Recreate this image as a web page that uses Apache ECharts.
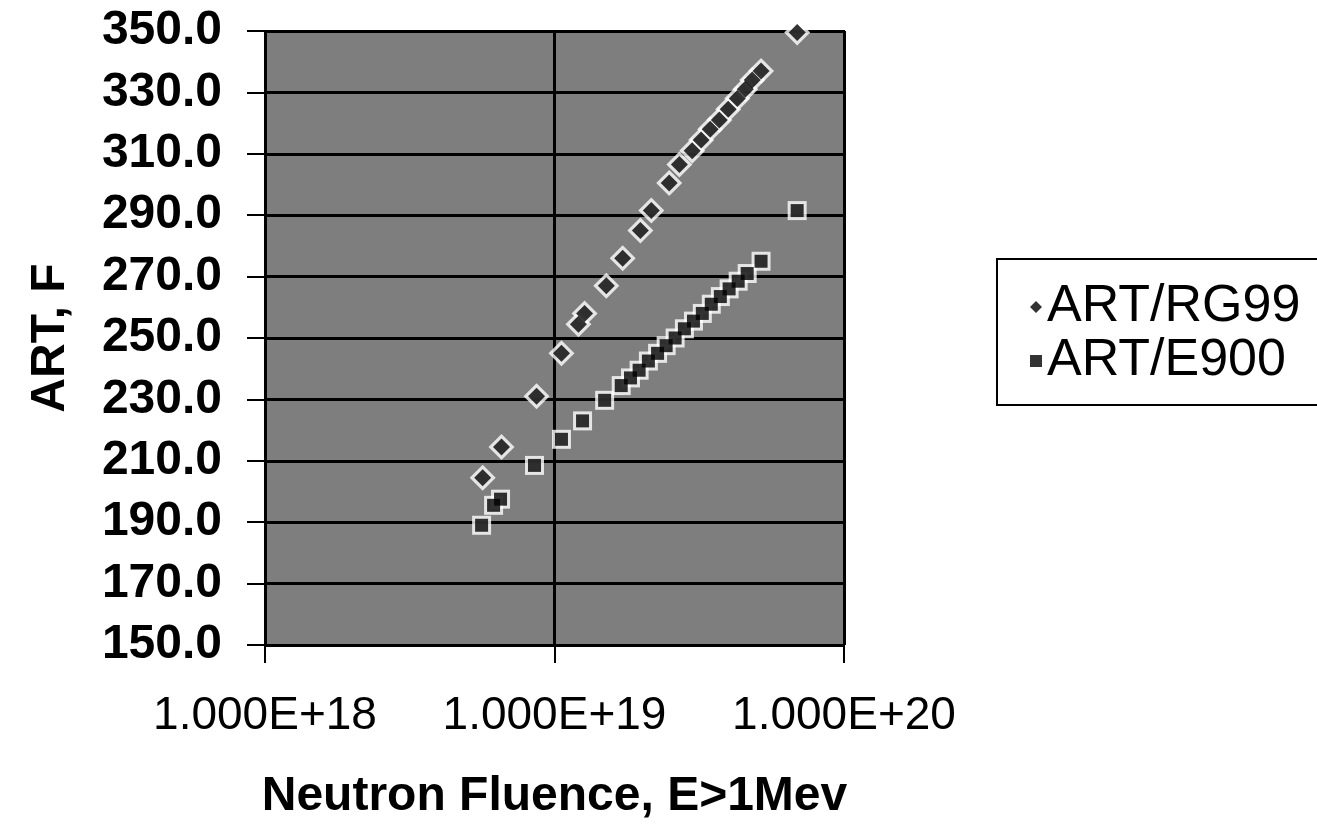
<!DOCTYPE html>
<html>
<head>
<meta charset="utf-8">
<title>ART vs Neutron Fluence</title>
<script src="https://cdn.jsdelivr.net/npm/echarts/dist/echarts.min.js"></script>
<style>
  html, body { margin: 0; padding: 0; background: #fff; }
  #main { width: 1317px; height: 834px; }
</style>
</head>
<body>
<div id="main"></div>
<script>
// data (fluence n/cm2, ART in F)
var rg99Fluence = [5.65e18, 6.56e18, 8.67e18, 1.057e19, 1.21e19, 1.27e19, 1.51e19, 1.72e19,
  1.98e19, 2.16e19, 2.49e19, 2.70e19, 2.99e19, 3.21e19, 3.45e19, 3.71e19, 3.98e19,
  4.28e19, 4.56e19, 4.82e19, 5.17e19, 6.89e19];
var rg99Art = [204.5, 214.5, 231.0, 245.0, 254.5, 258.0, 267.0, 276.0,
  285.0, 291.5, 300.5, 306.5, 311.0, 314.5, 318.0, 321.0, 324.5,
  328.0, 331.0, 334.0, 337.0, 349.5];

var e900Fluence = [5.60e18, 6.16e18, 6.51e18, 8.53e18, 1.057e19, 1.25e19, 1.49e19, 1.70e19,
  1.83e19, 1.96e19, 2.11e19, 2.27e19, 2.43e19, 2.61e19, 2.81e19, 3.02e19, 3.24e19,
  3.48e19, 3.74e19, 4.01e19, 4.31e19, 4.63e19, 5.17e19, 6.89e19];
var e900Art = [189.0, 195.5, 197.5, 208.5, 217.0, 223.0, 229.7, 234.5,
  237.0, 239.5, 242.5, 245.0, 247.5, 250.0, 253.0, 255.5, 258.0,
  261.0, 263.5, 266.0, 268.5, 271.0, 275.0, 291.5];

var seriesNames = ['ART/RG99', 'ART/E900'];
var yTicks = { min: 150, max: 350, step: 20 };

function pairs(xs, ys) {
  return xs.map(function (x, i) { return [x, ys[i]]; });
}

var FONT = '"Liberation Sans", Arial, sans-serif';
var myChart = echarts.init(document.getElementById('main'));

var option = {
  backgroundColor: '#fff',
  animation: false,
  textStyle: { fontFamily: FONT, color: '#000' },
  grid: {
    left: 265, top: 31, right: 473, bottom: 189,
    show: true,
    backgroundColor: '#7e7e7e',
    borderColor: '#000',
    borderWidth: 2
  },
  legend: {
    orient: 'vertical',
    left: 997, top: 259,
    data: [
      { name: seriesNames[0], icon: 'diamond' },
      { name: seriesNames[1], icon: 'rect' }
    ],
    itemWidth: 12, itemHeight: 12,
    itemGap: 2,
    padding: [22, 80, 18, 33],
    borderColor: '#000', borderWidth: 2,
    textStyle: { fontSize: 52, lineHeight: 50, color: '#000', fontFamily: FONT }
  },
  xAxis: {
    type: 'log',
    logBase: 10,
    min: 1e18, max: 1e20,
    name: 'Neutron Fluence, E>1Mev',
    nameLocation: 'middle',
    nameGap: 128,
    nameTextStyle: { fontSize: 48, fontWeight: 'bold', color: '#000', fontFamily: FONT },
    axisLine: { show: true, lineStyle: { color: '#000', width: 2 } },
    axisTick: { show: true, length: 18, lineStyle: { color: '#000', width: 2 } },
    axisLabel: {
      fontSize: 46, color: '#000', margin: 48, fontFamily: FONT,
      formatter: function (v) { return v.toExponential(3).toUpperCase(); }
    },
    splitLine: { show: true, lineStyle: { color: '#000', width: 3 } },
    minorTick: { show: false }
  },
  yAxis: {
    type: 'value',
    min: yTicks.min, max: yTicks.max, interval: yTicks.step,
    name: 'ART, F',
    nameLocation: 'middle',
    nameGap: 190,
    nameTextStyle: { fontSize: 48, fontWeight: 'bold', color: '#000', fontFamily: FONT },
    axisLine: { show: true, lineStyle: { color: '#000', width: 2 } },
    axisTick: { show: true, length: 18, lineStyle: { color: '#000', width: 2 } },
    axisLabel: {
      fontSize: 48, fontWeight: 'bold', color: '#000', margin: 43, fontFamily: FONT,
      formatter: function (v) { return v.toFixed(1); }
    },
    splitLine: { show: true, lineStyle: { color: '#000', width: 3 } }
  },
  series: [
    // white halos behind the markers
    { name: 'halo1', type: 'scatter', silent: true, z: 2, symbol: 'diamond', symbolSize: 26,
      itemStyle: { color: '#fff' }, data: pairs(rg99Fluence, rg99Art) },
    { name: 'halo2', type: 'scatter', silent: true, z: 2, symbol: 'rect', symbolSize: 19,
      itemStyle: { color: '#fff' }, data: pairs(e900Fluence, e900Art) },
    { name: seriesNames[0], type: 'scatter', z: 3, symbol: 'diamond', symbolSize: 17,
      itemStyle: { color: '#000' }, data: pairs(rg99Fluence, rg99Art) },
    { name: seriesNames[1], type: 'scatter', z: 3, symbol: 'rect', symbolSize: 13,
      itemStyle: { color: '#000' }, data: pairs(e900Fluence, e900Art) }
  ]
};

myChart.setOption(option);
</script>
</body>
</html>
